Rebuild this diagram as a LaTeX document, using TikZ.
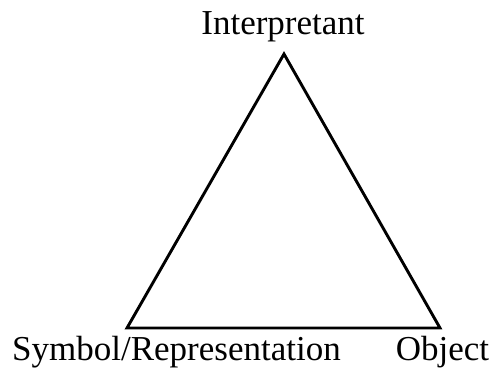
\documentclass[tikz,border=0pt]{standalone}
\usepackage{fontspec}
\setmainfont{Liberation Serif}
\begin{document}
\begin{tikzpicture}[x=1pt,y=-1pt,
  label text/.style={font=\fontsize{35}{40}\selectfont, inner sep=0pt, anchor=base},
  edge line/.style={line width=2.9pt, line join=miter}]
\useasboundingbox (0,0) rectangle (491,374);
% corners of the triangle
\coordinate (top) at (284,54);
\coordinate (left) at (127,328);
\coordinate (right) at (440,328);
\draw[edge line] (top) -- (right) -- (left) -- cycle;
% corner labels
\node[label text] (interp) at (283,35) {Interpretant};
\node[label text] (symbol) at (176.5,361) {Symbol/Representation};
\node[label text] (object) at (442.5,361) {Object};
\end{tikzpicture}
\end{document}
